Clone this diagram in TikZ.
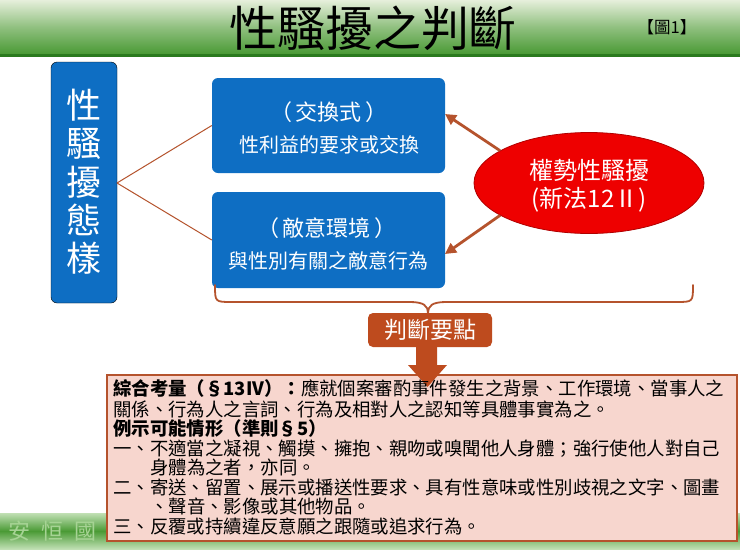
\documentclass[tikz,border=0pt]{standalone}
\usepackage{fontspec}
\setmainfont{Noto Sans CJK TC}
\usetikzlibrary{arrows.meta,shapes.geometric}
\definecolor{bannerlight}{HTML}{E6EFDB}
\definecolor{bannergreen}{HTML}{4A9A35}
\definecolor{darkgreen}{HTML}{2B7A1E}
\definecolor{boxblue}{HTML}{0E6EC3}
\definecolor{brownline}{HTML}{B5532D}
\definecolor{brownfill}{HTML}{BE4B1E}
\definecolor{pinkfill}{HTML}{F7D6CE}
\definecolor{ellred}{HTML}{EE0000}
\definecolor{ellborder}{HTML}{B00000}
\definecolor{wmgreen}{HTML}{A6D394}
\tikzset{
  bluebox/.style={fill=boxblue, rounded corners=6pt},
  wtext/.style={text=white, inner sep=0, align=center},
  conn/.style={draw=brownline, line width=1pt},
  powarrow/.style={draw=brownline, line width=2.8pt, -{Triangle[length=11pt,width=11pt]}},
  infotext/.style={anchor=west, inner sep=0, font=\fontsize{18.4}{20}\selectfont},
}
\begin{document}
\begin{tikzpicture}[x=1pt,y=-1pt]
\useasboundingbox (0,0) rectangle (740,555);
\fill[white] (0,0) rectangle (740,555);
% banner
\shade[top color=bannerlight, bottom color=bannergreen, middle color=bannerlight!45!bannergreen] (0,0) rectangle (740,54);
\fill[darkgreen] (0,53.5) rectangle (740,56.5);
\node[inner sep=0, font=\fontsize{48}{50}\selectfont] (title) at (373,28) {性騷擾之判斷};
\node[inner sep=0, font=\fontsize{16.5}{18}\selectfont] (fig) at (667,27) {【圖1】};
% bottom band
\shade[top color=wmgreen!70!white, bottom color=bannergreen] (0,513) rectangle (740,531);
\shade[top color=bannergreen, bottom color=wmgreen!70!white] (0,531) rectangle (740,549);
\node[inner sep=0, text=wmgreen, anchor=west, font=\fontsize{22}{24}\selectfont] (wm) at (8,531) {安\hspace{11pt}恒\hspace{11pt}國\hspace{11pt}際};
% left box
\draw[bluebox] (51,62) rectangle (117,303);
\node[wtext, font=\fontsize{35}{38.3}\selectfont] (kind) at (84,182) {性\\騷\\擾\\態\\樣};
\coordinate (fork) at (117,183);
% right boxes
\node[bluebox, minimum width=233pt, minimum height=95pt, inner sep=0] (ex) at (328.5,125.5) {};
\node[wtext, font=\fontsize{22}{24}\selectfont] (exa) at (329,112) {（\hspace{4pt}交換式\hspace{4pt}）};
\node[wtext, font=\fontsize{20}{22}\selectfont] (exb) at (329,145) {性利益的要求或交換};
\node[bluebox, minimum width=233pt, minimum height=96pt, inner sep=0] (ho) at (328.5,240) {};
\node[wtext, font=\fontsize{22}{24}\selectfont] (hoa) at (327,228) {（\hspace{4pt}敵意環境\hspace{4pt}）};
\node[wtext, font=\fontsize{20}{22}\selectfont] (hob) at (328,261) {與性別有關之敵意行為};
\draw[conn] (fork) -- (ex.west);
\draw[conn] (fork) -- (ho.west);
% ellipse
\node[ellipse, fill=ellred, draw=ellborder, line width=0.8pt, minimum width=230pt, minimum height=101pt, inner sep=0] (pow) at (589,183) {};
\node[wtext, font=\fontsize{24}{28}\selectfont] (powt) at (589,186) {權勢性騷擾\\(新法12Ⅱ)};
\coordinate (t1) at (445,114);
\coordinate (t2) at (445,254);
\draw[powarrow] (pow.160) -- (t1);
\draw[powarrow] (pow.200) -- (t2);
% brace
\coordinate (bl) at (215,285);
\coordinate (btip) at (428,313);
\coordinate (br) at (693,285);
\draw[brownline, line width=1.8pt, line cap=round]
  (bl) .. controls (215,302) .. (232,302) -- (410,302)
  .. controls (424,302) and (428,306) .. (btip)
  .. controls (428,306) and (432,302) .. (446,302) -- (676,302)
  .. controls (693,302) .. (br);
% key point box
\node[fill=brownfill, rounded corners=5pt, minimum width=124pt, minimum height=34pt, inner sep=0, text=white, font=\fontsize{23}{25}\selectfont] (key) at (430,330) {判斷要點};
% info box
\node[fill=pinkfill, draw=brownline, line width=2pt, minimum width=630pt, minimum height=166pt, inner sep=0] (info) at (422,458) {};
% block arrow
\fill[brownfill] (416,346) -- (437,346) -- (437,365) -- (447,365) -- (427.5,387) -- (408,365) -- (416,365) -- cycle;
% info text
\node[infotext] (l1) at (113,389) {\textbf{綜合考量（§13IV）：}應就個案審酌事件發生之背景、工作環境、當事人之};
\node[infotext] (l2) at (113,409) {關係、行為人之言詞、行為及相對人之認知等具體事實為之。};
\node[infotext] (l3) at (113,429) {\textbf{例示可能情形（準則§5）}};
\node[infotext] (l4) at (113,449) {一、不適當之凝視、觸摸、擁抱、親吻或嗅聞他人身體；強行使他人對自己};
\node[infotext] (l5) at (150,467) {身體為之者，亦同。};
\node[infotext] (l6) at (113,487) {二、寄送、留置、展示或播送性要求、具有性意味或性別歧視之文字、圖畫};
\node[infotext] (l7) at (150,506) {、聲音、影像或其他物品。};
\node[infotext] (l8) at (113,526) {三、反覆或持續違反意願之跟隨或追求行為。};
\end{tikzpicture}
\end{document}
